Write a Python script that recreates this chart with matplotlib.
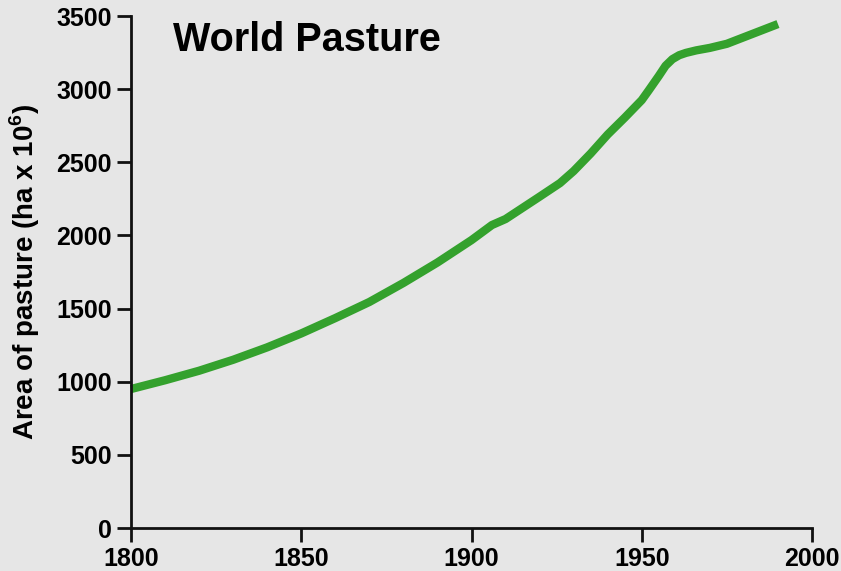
import matplotlib
matplotlib.use("Agg")
import matplotlib.pyplot as plt

# world pasture area, ha x 10^6
years = [1800, 1810, 1820, 1830, 1840, 1850, 1860, 1870, 1880, 1890,
         1900, 1906, 1910, 1920, 1926, 1930, 1935, 1940, 1945, 1950, 1952,
         1955, 1957, 1959, 1961, 1963, 1966, 1970, 1975, 1980, 1985, 1990]
pasture = [950, 1010, 1075, 1150, 1235, 1330, 1435, 1545, 1675, 1815,
           1968, 2071, 2112, 2265, 2358, 2440, 2560, 2690, 2805, 2925, 2990,
           3090, 3160, 3205, 3232, 3248, 3265, 3282, 3310, 3355, 3400, 3445]

xticks = [1800, 1850, 1900, 1950, 2000]
yticks = [0, 500, 1000, 1500, 2000, 2500, 3000, 3500]

BG = '#e6e6e6'
GREEN = '#34a12d'

plt.rcParams['font.family'] = ['Liberation Sans', 'DejaVu Sans']
plt.rcParams['font.weight'] = 'bold'
plt.rcParams['mathtext.fontset'] = 'custom'
plt.rcParams['mathtext.bf'] = 'Liberation Sans:bold'
plt.rcParams['mathtext.rm'] = 'Liberation Sans:bold'

fig = plt.figure(figsize=(8.41, 5.71), dpi=100, facecolor=BG)
ax = fig.add_axes([131 / 841, 43 / 571, 681 / 841, 512 / 571])
ax.set_facecolor(BG)

ax.plot(years, pasture, color=GREEN, lw=6, solid_capstyle='butt',
        solid_joinstyle='round', clip_on=False)

ax.set_xlim(1800, 2000)
ax.set_ylim(0, 3500)
ax.set_xticks(xticks)
ax.set_yticks(yticks)
ax.tick_params(direction='out', length=10, width=2, labelsize=18, pad=4,
               color='#111111')
for lab in ax.get_xticklabels() + ax.get_yticklabels():
    lab.set_fontweight('bold')

for s in ['top', 'right']:
    ax.spines[s].set_visible(False)
for s in ['left', 'bottom']:
    ax.spines[s].set_linewidth(2)
    ax.spines[s].set_color('#111111')

ax.set_ylabel('Area of pasture (ha x 10$^{\\mathbf{6}}$)', fontsize=20,
              fontweight='bold', labelpad=10)
ax.text(0.062, 0.99, 'World Pasture', transform=ax.transAxes, fontsize=28.5,
        fontweight='bold', va='top', ha='left')

fig.savefig('out.png', dpi=100, facecolor=BG)
